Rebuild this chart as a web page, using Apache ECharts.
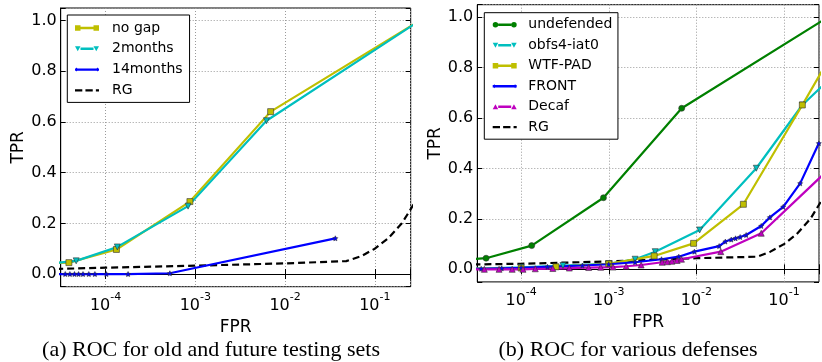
<!DOCTYPE html>
<html>
<head>
<meta charset="utf-8">
<script src="https://cdn.jsdelivr.net/npm/echarts@6/dist/echarts.min.js"></script>
<style>
  html, body { margin: 0; padding: 0; background: #fff; }
  #chart { width: 822px; height: 362px; }
</style>
</head>
<body>
<div id="chart"></div>
<script>
// ---- (a) old and future testing sets ----
const noGapX = [1.6e-5, 3.9e-5, 1.32e-4, 8.7e-4, 6.9e-3, 0.316];
const noGapY = [0.042, 0.045, 0.097, 0.286, 0.641, 1.0];
const twoMonthsX = [1.6e-5, 4.7e-5, 1.35e-4, 8.3e-4, 6.2e-3, 0.316];
const twoMonthsY = [0.035, 0.052, 0.107, 0.268, 0.605, 1.0];
const fourteenX = [1.6e-5, 3.55e-5, 4.0e-5, 4.5e-5, 5.0e-5, 5.6e-5, 6.5e-5, 7.6e-5, 1.02e-4, 1.78e-4, 5.2e-4, 3.63e-2];
const fourteenY = [0.0, 0.0, 0.0, 0.0, 0.0, 0.0, 0.0, 0.0, 0.0, 0.0, 0.003, 0.141];
const rgLeftX = [1.6e-5, 1e-4, 1e-3, 1e-2, 0.048, 0.07, 0.1, 0.14, 0.2, 0.3];
const rgLeftY = [0.018, 0.025, 0.033, 0.042, 0.051, 0.07, 0.1, 0.14, 0.2, 0.3];

// ---- (b) various defenses ----
const undefX = [1.6e-5, 3.98e-5, 1.32e-4, 8.7e-4, 6.8e-3, 0.316];
const undefY = [0.035, 0.044, 0.094, 0.284, 0.639, 1.0];
const obfsX = [1.6e-5, 1e-4, 3e-4, 1e-3, 2e-3, 3.39e-3, 1.09e-2, 4.83e-2, 0.162, 0.32];
const obfsY = [0.0, 0.008, 0.015, 0.022, 0.04, 0.07, 0.156, 0.401, 0.652, 0.75];
const wtfX = [1.6e-5, 1e-4, 2.5e-4, 1e-3, 3.3e-3, 9.3e-3, 3.44e-2, 0.162, 0.32];
const wtfY = [0.0, 0.005, 0.01, 0.022, 0.053, 0.103, 0.258, 0.652, 0.83];
const frontX = [1.6e-5, 3.5e-5, 6e-5, 1e-4, 2e-4, 5e-4, 1e-3, 2e-3, 4e-3, 6.3e-3, 9.5e-3, 1.82e-2, 2.14e-2, 2.5e-2, 2.8e-2, 3.16e-2, 3.7e-2, 5.5e-2, 6.9e-2, 9.8e-2, 0.153, 0.25];
const frontY = [0.0, 0.002, 0.004, 0.006, 0.01, 0.015, 0.02, 0.028, 0.04, 0.05, 0.07, 0.092, 0.11, 0.118, 0.123, 0.128, 0.136, 0.172, 0.206, 0.248, 0.341, 0.5];
const decafX = [1.6e-5, 3.8e-5, 5.6e-5, 7.9e-5, 1.05e-4, 1.45e-4, 2.3e-4, 3.55e-4, 5.9e-4, 8.1e-4, 1.12e-3, 1.58e-3, 2.34e-3, 4.07e-3, 4.68e-3, 5.25e-3, 6.03e-3, 6.76e-3, 1.9e-2, 5.5e-2, 0.32];
const decafY = [0.0, 0.0, 0.0, 0.0, 0.0, 0.002, 0.003, 0.005, 0.007, 0.008, 0.009, 0.012, 0.017, 0.028, 0.03, 0.032, 0.035, 0.04, 0.07, 0.143, 0.395];
const rgRightX = [1.6e-5, 1e-4, 1e-3, 1e-2, 0.05, 0.07, 0.1, 0.14, 0.2, 0.3];
const rgRightY = [0.018, 0.022, 0.031, 0.044, 0.05, 0.07, 0.1, 0.14, 0.2, 0.3];

const xMin = 3.16e-5, xMax = 0.251;
const captions = ["(a) ROC for old and future testing sets", "(b) ROC for various defenses"];

const FONT = "DejaVu Sans";
const STAR = "path://M0,-1L0.29,-0.4L0.95,-0.31L0.47,0.15L0.59,0.81L0,0.5L-0.59,0.81L-0.47,0.15L-0.95,-0.31L-0.29,-0.4Z";
const pts = (xs, ys) => xs.map((x, i) => [x, ys[i]]);

// legend samples: short line with a marker at each end, like the matplotlib legend
const LINE = "M5.5,2.8h13v2.4h-13z";
const ICON = {
  rect: "path://" + LINE + "M0,1.25h5.5v5.5h-5.5z M18.5,1.25h5.5v5.5h-5.5z",
  down: "path://" + LINE + "M0,1.5h5.5l-2.75,5z M18.5,1.5h5.5l-2.75,5z",
  up: "path://" + LINE + "M0,6.5l2.75,-5l2.75,5z M18.5,6.5l2.75,-5l2.75,5z",
  circle: "path://" + LINE + "M0,4a2.75,2.75 0 1,1 5.5,0a2.75,2.75 0 1,1 -5.5,0z M18.5,4a2.75,2.75 0 1,1 5.5,0a2.75,2.75 0 1,1 -5.5,0z",
  star: "path://M0,2.8h24v2.4h-24z M0,4l1.6,-2l1.6,2l-1.6,2z M20.8,4l1.6,-2l1.6,2l-1.6,2z",
  dash: "path://M0,2.9h7v2.2h-7z M10,2.9h7v2.2h-7z M20,2.9h3v2.2h-3z",
};

const gridLine = { show: true, lineStyle: { color: "#9a9a9a", type: [1, 2], width: 1 } };

function xAxes(gridIndex) {
  return [
    {
      type: "log", logBase: 10, gridIndex, min: xMin, max: xMax,
      name: "FPR", nameLocation: "middle", nameGap: 19,
      nameTextStyle: { fontFamily: FONT, fontSize: 17, color: "#000" },
      axisLine: { show: true, lineStyle: { color: "#000", width: 1 } },
      axisTick: { show: true, inside: true, length: 5, lineStyle: { color: "#000" } },
      splitLine: gridLine,
      axisLabel: {
        margin: 5,
        formatter(v) {
          const e = Math.log10(v);
          if (Math.abs(e - Math.round(e)) > 1e-6) return "";
          return "{b|10}{s|" + Math.round(e) + "}";
        },
        rich: {
          b: { fontFamily: FONT, fontSize: 16, color: "#000", verticalAlign: "bottom", lineHeight: 22 },
          s: { fontFamily: FONT, fontSize: 11, color: "#000", verticalAlign: "top", lineHeight: 22 },
        },
      },
    },
    {
      type: "log", logBase: 10, gridIndex, min: xMin, max: xMax, position: "top",
      axisLine: { show: false }, axisLabel: { show: false }, splitLine: { show: false },
      axisTick: { show: true, inside: true, length: 5, lineStyle: { color: "#000" } },
    },
  ];
}

function yAxes(gridIndex) {
  return [
    {
      type: "value", gridIndex, min: -0.05, max: 1.05,
      name: "TPR", nameLocation: "middle", nameGap: 33,
      nameTextStyle: { fontFamily: FONT, fontSize: 17, color: "#000" },
      axisLine: { show: true, lineStyle: { color: "#000", width: 1 } },
      axisTick: { show: true, inside: true, length: 5, lineStyle: { color: "#000" } },
      splitLine: gridLine,
      axisLabel: {
        margin: 4, fontFamily: FONT, fontSize: 16, color: "#000",
        formatter(v) {
          const k = v / 0.2;
          if (Math.abs(k - Math.round(k)) > 1e-6) return "";
          return v.toFixed(1);
        },
      },
    },
    {
      type: "value", gridIndex, min: -0.05, max: 1.05, position: "right",
      axisLine: { show: false }, axisLabel: { show: false }, splitLine: { show: false },
      axisTick: { show: true, inside: true, length: 5, lineStyle: { color: "#000" } },
    },
  ];
}

function line(name, xs, ys, color, symbol, idx, extra) {
  return Object.assign({
    name, type: "line", data: pts(xs, ys),
    xAxisIndex: idx * 2, yAxisIndex: idx * 2,
    symbol, symbolSize: 6,
    lineStyle: { color, width: 2.2 },
    itemStyle: { color, borderColor: "#333", borderWidth: 0.6 },
    emphasis: { disabled: true },
    clip: true,
  }, extra || {});
}

const rg = (xs, ys, idx) => line("RG", xs, ys, "#000", "none", idx, {
  showSymbol: false, z: 1,
  lineStyle: { color: "#000", width: 2.2, type: [7, 4] },
});

const legendBase = {
  orient: "vertical", backgroundColor: "#fff", borderColor: "#000", borderWidth: 1,
  itemWidth: 24, itemHeight: 8, itemGap: 6.8,
  itemStyle: { borderWidth: 0 },
  textStyle: { fontFamily: FONT, fontSize: 14, lineHeight: 14, color: "#000" },
};

const chart = echarts.init(document.getElementById("chart"), null, { renderer: "canvas" });
chart.setOption({
  animation: false,
  backgroundColor: "#fff",
  grid: [
    { left: 60.7, top: 8, width: 350, height: 278.7, show: true, borderColor: "#000", borderWidth: 1, backgroundColor: "transparent" },
    { left: 477.3, top: 4.7, width: 350.4, height: 277.2, show: true, borderColor: "#000", borderWidth: 1, backgroundColor: "transparent" },
  ],
  xAxis: [...xAxes(0), ...xAxes(1)],
  yAxis: [...yAxes(0), ...yAxes(1)],
  legend: [
    Object.assign({}, legendBase, {
      left: 67.3, top: 15, padding: [6, 7, 5, 7.7],
      data: [
        { name: "no gap", icon: ICON.rect },
        { name: "2months", icon: ICON.down },
        { name: "14months", icon: ICON.star },
        { name: "RG", icon: ICON.dash },
      ],
      textStyle: Object.assign({}, legendBase.textStyle, { padding: [0, 0, 0, 8] }),
    }),
    Object.assign({}, legendBase, {
      left: 484.3, top: 12.7, padding: [5, 5.6, 5, 8.4], itemGap: 6.5,
      data: [
        { name: "undefended", icon: ICON.circle },
        { name: "obfs4-iat0", icon: ICON.down },
        { name: "WTF-PAD", icon: ICON.rect },
        { name: "FRONT", icon: ICON.star },
        { name: "Decaf", icon: ICON.up },
        { name: "RG", icon: ICON.dash },
      ],
      textStyle: Object.assign({}, legendBase.textStyle, { padding: [0, 0, 0, 6.6] }),
    }),
  ],
  graphic: [
    { type: "text", x: 211, y: 350, style: { text: captions[0], textAlign: "center", textVerticalAlign: "middle", font: '22px "Liberation Serif"', fill: "#000" } },
    { type: "text", x: 628, y: 350, style: { text: captions[1], textAlign: "center", textVerticalAlign: "middle", font: '22px "Liberation Serif"', fill: "#000" } },
  ],
  series: [
    rg(rgLeftX, rgLeftY, 0),
    line("no gap", noGapX, noGapY, "#bfbf00", "rect", 0),
    line("2months", twoMonthsX, twoMonthsY, "#00bfbf", "triangle", 0, { symbolRotate: 180 }),
    line("14months", fourteenX, fourteenY, "#0000ff", STAR, 0, { symbolSize: 5 }),
    rg(rgRightX, rgRightY, 1),
    line("undefended", undefX, undefY, "#008000", "circle", 1),
    line("obfs4-iat0", obfsX, obfsY, "#00bfbf", "triangle", 1, { symbolRotate: 180 }),
    line("WTF-PAD", wtfX, wtfY, "#bfbf00", "rect", 1),
    line("FRONT", frontX, frontY, "#0000ff", STAR, 1, { symbolSize: 5 }),
    line("Decaf", decafX, decafY, "#bf00bf", "triangle", 1),
  ],
});
</script>
</body>
</html>
